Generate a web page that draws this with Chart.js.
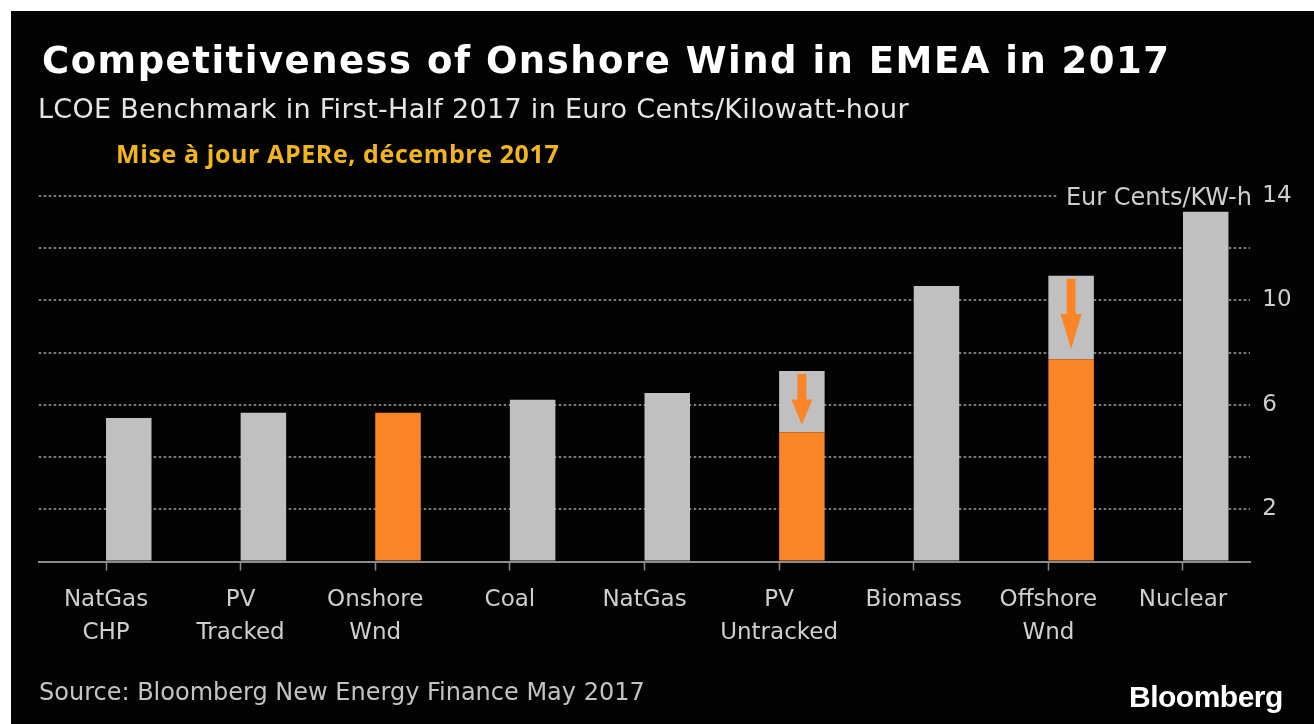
<!DOCTYPE html>
<html>
<head>
<meta charset="utf-8">
<title>Competitiveness of Onshore Wind in EMEA in 2017</title>
<script src="https://cdn.jsdelivr.net/npm/chart.js"></script>
<style>
  body {
    margin: 0;
    width: 1314px;
    height: 724px;
    overflow: hidden;
    position: relative;
    background: #fff;
    font-family: "DejaVu Sans", sans-serif;
  }
  #frame {
    position: absolute;
    left: 11px;
    top: 11px;
    width: 1303px;
    height: 713px;
    background: #030303;
  }
  .txt {
    position: absolute;
    white-space: nowrap;
    line-height: 1;
  }
  #title { left: 42px; top: 42px; font-size: 37px; font-weight: bold; letter-spacing: 1.5px; color: #fff; }
  #subtitle { left: 38px; top: 95px; font-size: 27px; letter-spacing: 0.3px; color: #e6e6e6; }
  #update { left: 116px; top: 141px; font-family: "Open Sans", sans-serif; font-size: 25px; font-weight: bold; letter-spacing: 0.6px; color: #f2b51c; }
  #unit { right: 60px; top: 185px; font-size: 24px; color: #cfcfcf; background: #030303; padding: 0 2px 0 8px; }
  #source { left: 39px; top: 680px; font-size: 24px; color: #c4c4c4; }
  #brand { left: 1129px; top: 682px; font-family: "Liberation Sans", Arial, sans-serif; font-size: 30px; font-weight: bold; color: #fff; letter-spacing: -0.5px; }
</style>
</head>
<body>
<div id="frame"><canvas id="lcoeChart"></canvas></div>
<div class="txt" id="title">Competitiveness of Onshore Wind in EMEA in 2017</div>
<div class="txt" id="subtitle">LCOE Benchmark in First-Half 2017 in Euro Cents/Kilowatt-hour</div>
<div class="txt" id="update">Mise à jour APERe, décembre 2017</div>
<div class="txt" id="unit">Eur Cents/KW-h</div>
<div class="txt" id="source">Source: Bloomberg New Energy Finance May 2017</div>
<div class="txt" id="brand">Bloomberg</div>
<script>
const categories = [
  ["NatGas", "CHP"],
  ["PV", "Tracked"],
  ["Onshore", "Wnd"],
  ["Coal"],
  ["NatGas"],
  ["PV", "Untracked"],
  ["Biomass"],
  ["Offshore", "Wnd"],
  ["Nuclear"],
];
// BNEF benchmark, H1 2017 (Eur cents / kWh)
const lcoeBnef = [5.5, 5.7, 5.7, 6.2, 6.45, 7.3, 10.55, 10.95, 13.4];
// APERe update, Dec 2017 (only for the two revised technologies)
const lcoeApere = [null, null, null, null, null, 4.95, null, 7.75, null];
const highlighted = [false, false, true, false, false, true, false, true, false];
const yTickLabels = [2, 6, 10, 14];

const GREY = "#c0c0c0";
const ORANGE = "#fa8527";
const GRID = "#7d7d7d";
const AXIS = "#8c8c8c";
const LABEL = "#cfcfcf";

// bar = updated value where there is one, otherwise the BNEF value
const baseValues = lcoeBnef.map((v, i) => (lcoeApere[i] == null ? v : lcoeApere[i]));
// grey remainder above the updated value
const cutValues = lcoeBnef.map((v, i) => (lcoeApere[i] == null ? null : v - lcoeApere[i]));

const arrowPlugin = {
  id: "arrows",
  afterDatasetsDraw(chart) {
    const ctx = chart.ctx;
    chart.getDatasetMeta(2).data.forEach((bar, i) => {
      if (lcoeApere[i] == null) return;
      const h = bar.base - bar.y;
      const top = bar.y + 3;
      const tip = bar.base - h * 0.12;
      const head = (tip - top) * 0.5;
      const x = bar.x;
      ctx.save();
      ctx.fillStyle = ORANGE;
      ctx.beginPath();
      ctx.moveTo(x - 4.5, top);
      ctx.lineTo(x + 4.5, top);
      ctx.lineTo(x + 4.5, tip - head);
      ctx.lineTo(x + 10.5, tip - head);
      ctx.lineTo(x, tip);
      ctx.lineTo(x - 10.5, tip - head);
      ctx.lineTo(x - 4.5, tip - head);
      ctx.closePath();
      ctx.fill();
      ctx.restore();
    });
  },
};

new Chart(document.getElementById("lcoeChart"), {
  type: "bar",
  data: {
    labels: categories,
    datasets: [
      // empty stack so the real bars sit just right of each tick
      { stack: "pad", data: categories.map(() => null) },
      {
        stack: "main",
        data: baseValues,
        backgroundColor: highlighted.map((h) => (h ? ORANGE : GREY)),
      },
      { stack: "main", data: cutValues, backgroundColor: GREY },
    ],
  },
  options: {
    responsive: true,
    maintainAspectRatio: false,
    animation: false,
    categoryPercentage: 0.676,
    barPercentage: 1,
    layout: { padding: { left: 27.7, right: 13.7, top: 185, bottom: 72.5 } },
    plugins: {
      legend: { display: false },
      tooltip: { enabled: false },
    },
    scales: {
      x: {
        stacked: true,
        afterFit: (axis) => { axis.height = 90; },
        border: { display: true, color: AXIS, width: 2 },
        grid: {
          offset: false,
          drawOnChartArea: false,
          drawTicks: true,
          tickLength: 9,
          tickWidth: 1.5,
          tickColor: AXIS,
        },
        ticks: {
          autoSkip: false,
          maxRotation: 0,
          padding: 13,
          color: LABEL,
          font: { family: "DejaVu Sans", size: 23, lineHeight: 1.45 },
        },
      },
      y: {
        stacked: true,
        position: "right",
        min: 0,
        max: 14,
        afterFit: (axis) => { axis.width = 50; },
        // in v4 the grid lines take their dash from border.dash
        border: { display: false, dash: [2.5, 2.5] },
        grid: {
          drawTicks: false,
          lineWidth: 2,
          color: (c) => (c.tick && c.tick.value === 0 ? "rgba(0,0,0,0)" : GRID),
        },
        ticks: {
          stepSize: 2,
          padding: 12,
          color: LABEL,
          font: { family: "DejaVu Sans", size: 23 },
          callback: (v) => (yTickLabels.includes(v) ? String(v) : ""),
        },
      },
    },
  },
  plugins: [arrowPlugin],
});
</script>
</body>
</html>
